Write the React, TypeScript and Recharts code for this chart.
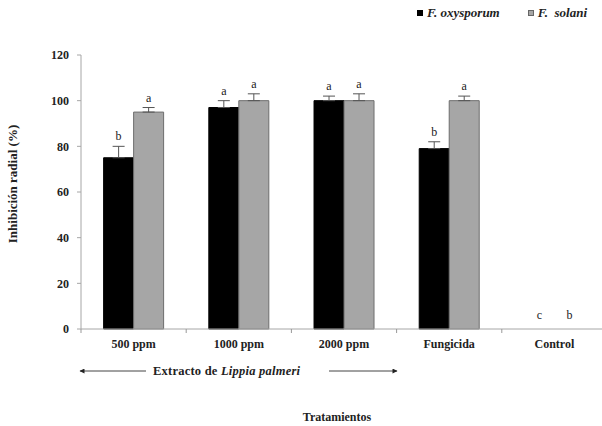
import { Bar, BarChart, ErrorBar, LabelList, Legend, Rectangle, XAxis, YAxis } from "recharts";

const categories = ["500 ppm", "1000 ppm", "2000 ppm", "Fungicida", "Control"];
const oxysporum = [75, 97, 100, 79, 0];
const oxysporumErr = [5, 3, 2, 3, 0];
const oxysporumLetters = ["b", "a", "a", "b", "c"];
const solani = [95, 100, 100, 100, 0];
const solaniErr = [2, 3, 3, 2, 0];
const solaniLetters = ["a", "a", "a", "a", "b"];
const yTicks = [0, 20, 40, 60, 80, 100, 120];

// one-sided (upward) error bars; none where the error is 0
const upErr = (e: number) => (e > 0 ? [0, e] : null);

const data = categories.map((name, i) => ({
  name,
  oxy: oxysporum[i],
  oxyErr: upErr(oxysporumErr[i]),
  sol: solani[i],
  solErr: upErr(solaniErr[i]),
}));

const FONT = "'Liberation Serif', 'Times New Roman', serif";
const AXIS = "#a6a6a6";
const INK = "#222";

function Letter({ x, y, children }: { x: number; y: number; children: string }) {
  return (
    <text x={x} y={y} textAnchor="middle" fontFamily={FONT} fontSize={12} fill={INK}>
      {children}
    </text>
  );
}

// letters above the error bars
function letterLabel(letters: string[], errs: number[]) {
  return (p: any) => {
    const { x, y, width, height, value, index } = p;
    const v = Number(value) || 0;
    if (v <= 0) return null;
    return <Letter x={x + width / 2} y={y - errs[index] * (height / v) - 6}>{letters[index]}</Letter>;
  };
}

// bars of height 0 get no label entry, so the shape draws their letter
function barShape(letters: string[]) {
  return (p: any) => {
    const idx = typeof p.index === "number" ? p.index : categories.indexOf(p.payload?.name);
    return (
      <g>
        <Rectangle {...p} />
        {!p.height ? <Letter x={p.x + p.width / 2} y={p.y - 10}>{letters[idx]}</Letter> : null}
      </g>
    );
  };
}

function CategoryTick(p: any) {
  const { x, y, payload } = p;
  const half = payload.offset || (p.width ? p.width / categories.length / 2 : 0);
  return (
    <g>
      <line x1={x - half} x2={x - half} y1={y - 8} y2={y - 4} stroke="#999" />
      <text x={x} y={y + 11} textAnchor="middle" fontFamily={FONT} fontWeight="bold" fontSize={12} fill={INK}>
        {payload.value}
      </text>
    </g>
  );
}

function LegendBox() {
  const item = (color: string, stroke: string, label: string, gap: number) => (
    <span style={{ display: "inline-flex", alignItems: "center", marginLeft: gap }}>
      <span style={{ width: 4, height: 4, background: color, border: `1px solid ${stroke}`, marginRight: 4 }} />
      <span style={{ fontStyle: "italic", fontWeight: "bold" }}>{label}</span>
    </span>
  );
  return (
    <div style={{ fontFamily: FONT, fontSize: 13, color: INK, whiteSpace: "pre", lineHeight: "14px", height: 14 }}>
      {item("#000", "#000", "F. oxysporum", 0)}
      {item("#a6a6a6", "#666", "F.  solani", 28)}
    </div>
  );
}

export default function App() {
  return (
    <div style={{ position: "relative", width: 602, height: 426, overflow: "hidden", background: "#fff" }}>
      <style>{"body{margin:0}"}</style>
      <BarChart
        width={608}
        height={426}
        data={data}
        margin={{ top: 41, right: 1, left: 41, bottom: 5 }}
        barCategoryGap="21.5%"
        barGap={0}
      >
        <Legend
          verticalAlign="top"
          align="right"
          content={<LegendBox />}
          wrapperStyle={{ top: 5, right: 21, left: "auto", width: "auto" }}
        />
        <XAxis
          dataKey="name"
          stroke={AXIS}
          tickLine={false}
          height={92}
          tick={<CategoryTick />}
          interval={0}
          label={{
            value: "Tratamientos",
            position: "insideBottom",
            offset: 0,
            dx: -7,
            style: { fontFamily: FONT, fontWeight: "bold", fontSize: 12, fill: INK },
          }}
        />
        <YAxis
          domain={[0, 120]}
          ticks={yTicks}
          width={40}
          stroke={AXIS}
          tickSize={4}
          tickMargin={8}
          tick={{ fontFamily: FONT, fontWeight: "bold", fontSize: 12, fill: INK }}
          label={{
            value: "Inhibición radial (%)",
            angle: -90,
            position: "insideLeft",
            offset: -29,
            dy: -8,
            style: { fontFamily: FONT, fontWeight: "bold", fontSize: 13, fill: INK, textAnchor: "middle" },
          }}
        />
        <Bar dataKey="oxy" fill="#000" stroke="#000" isAnimationActive={false} shape={barShape(oxysporumLetters)}>
          <ErrorBar dataKey="oxyErr" direction="y" width={6} stroke="#555" strokeWidth={1} />
          <LabelList dataKey="oxy" content={letterLabel(oxysporumLetters, oxysporumErr)} />
        </Bar>
        <Bar dataKey="sol" fill="#a6a6a6" stroke="#6e6e6e" isAnimationActive={false} shape={barShape(solaniLetters)}>
          <ErrorBar dataKey="solErr" direction="y" width={6} stroke="#555" strokeWidth={1} />
          <LabelList dataKey="sol" content={letterLabel(solaniLetters, solaniErr)} />
        </Bar>
      </BarChart>
      <svg
        width={602}
        height={426}
        style={{ position: "absolute", left: 0, top: 0, pointerEvents: "none" }}
      >
        <defs>
          <marker id="ah" viewBox="0 0 10 10" refX="9" refY="5" markerWidth="7" markerHeight="5" orient="auto-start-reverse">
            <path d="M0,0 L10,5 L0,10 z" fill={INK} />
          </marker>
        </defs>
        <line x1={146} y1={371} x2={80} y2={371} stroke="#444" strokeWidth={1} markerEnd="url(#ah)" />
        <line x1={329} y1={371} x2={397} y2={371} stroke="#444" strokeWidth={1} markerEnd="url(#ah)" />
        <text x={153} y={375} fontFamily={FONT} fontWeight="bold" fontSize={12.5} fill={INK} textLength={147} lengthAdjust="spacing">
          Extracto de <tspan fontStyle="italic">Lippia palmeri</tspan>
        </text>
      </svg>
    </div>
  );
}
